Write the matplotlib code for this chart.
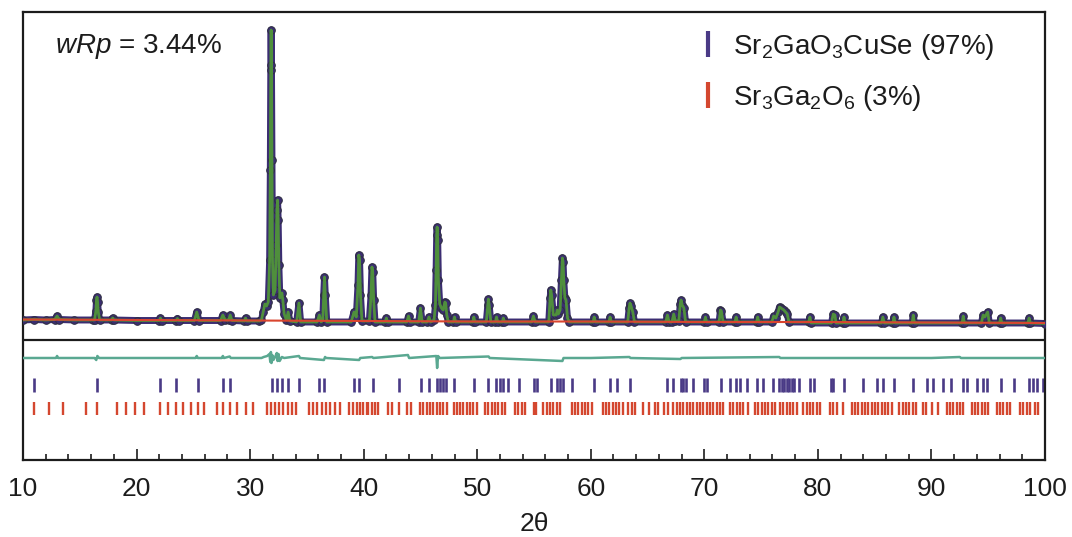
import matplotlib
matplotlib.use("Agg")
import matplotlib.pyplot as plt
from matplotlib.lines import Line2D
from matplotlib.ticker import MultipleLocator

plt.rcParams['font.family'] = ['Liberation Sans', 'DejaVu Sans']
plt.rcParams['mathtext.fontset'] = 'custom'
plt.rcParams['mathtext.rm'] = 'Liberation Sans'
plt.rcParams['mathtext.it'] = 'Liberation Sans:italic'

# ---------------- data ----------------
obs_tth = [10.0, 11.0, 12.0, 12.8, 13.0, 13.2, 14.5, 16.2,
           16.3, 16.42, 16.47, 16.52, 16.57, 16.63, 16.75,
           17.8, 17.9, 18.0, 20.0, 22.0, 22.1, 22.2, 23.5, 23.6, 23.7, 25.1, 25.3, 25.5,
           27.4, 27.6, 27.8, 28.1, 28.25, 28.4, 29.5, 29.6, 29.7, 30.8,
           31.0, 31.15, 31.3, 31.45, 31.6, 31.72, 31.78, 31.82, 31.85, 31.88, 31.92, 31.97,
           32.05, 32.2, 32.3, 32.36, 32.42, 32.47, 32.53, 32.62, 32.72, 32.8, 32.88, 33.0,
           33.2, 33.35, 33.5, 34.1, 34.3, 34.45, 35.9, 36.1, 36.25, 36.4, 36.48, 36.55, 36.62, 36.75,
           38.9, 39.15, 39.35, 39.5, 39.57, 39.64, 39.72, 39.85,
           40.5, 40.65, 40.73, 40.8, 40.88, 41.0, 41.9, 42.0, 42.1, 43.8, 43.95, 44.1,
           44.85, 45.0, 45.15, 45.6, 45.75, 45.9,
           46.2, 46.32, 46.38, 46.43, 46.47, 46.52, 46.58, 46.7, 46.85, 47.0, 47.15, 47.22, 47.32, 47.45,
           47.9, 48.0, 48.1, 49.6, 49.7, 49.8,
           50.8, 50.93, 50.98, 51.05, 51.2, 51.6, 51.7, 51.8, 52.2, 52.3, 52.4, 54.8, 54.95, 55.1,
           56.3, 56.42, 56.48, 56.55, 56.7, 56.95, 57.05, 57.15, 57.3, 57.42, 57.5, 57.56, 57.62,
           57.72, 57.82, 57.95, 58.1,
           60.2, 60.3, 60.4, 61.6, 61.7, 61.8, 63.25, 63.38, 63.45, 63.55, 63.7, 63.85,
           66.6, 66.75, 66.9, 67.15, 67.3, 67.45, 67.75, 67.88, 67.95, 68.05, 68.2, 68.35,
           70.0, 70.1, 70.2, 71.3, 71.42, 71.5, 71.65, 72.7, 72.8, 72.9, 74.6, 74.7, 74.8,
           75.95, 76.1, 76.3, 76.5, 76.62, 76.75, 76.88, 77.0, 77.15, 77.3, 77.45,
           79.2, 79.3, 79.4, 81.2, 81.35, 81.5, 81.6, 82.2, 82.3, 82.4,
           85.6, 85.72, 85.85, 86.6, 86.7, 86.8, 88.3, 88.4, 88.5, 92.7, 92.8, 92.9,
           94.4, 94.55, 94.7, 94.95, 95.1, 96.0, 96.1, 96.2, 98.5, 98.6, 98.7, 100.0]
obs_int = [0, 0.5, 0, 0.5, 4, 0.5, 0, 0,
           0, 9, 20, 23, 18, 8, 0,
           0, 2, 0, -0.5, -0.5, 2, -0.5, -0.5, 1.5, -0.5, -0.5, 8, -0.5,
           -0.5, 5, 0, 0, 5, -0.5, -1, 2, -1, -1,
           0, 8, 16, 14, 18, 60, 150, 250, 290, 255, 160, 60,
           25, 30, 75, 110, 120, 100, 55, 22, 25, 27, 20, 6,
           0, 8, -1, -2, 17, -2, -2, 5, -2, 0, 25, 43, 25, -2,
           -2, 8, 3, 35, 65, 60, 25, -1,
           -1, 25, 53, 48, 20, -2, -2, 2, -2, -2, 4, -2,
           -2, 12, -2, -2, 3, -2,
           0, 15, 50, 85, 93, 80, 40, 16, 12, 10, 18, 17, 5, -2,
           -2, 3, -2, -2, 3, -2,
           -2, 15, 21, 15, -2, -2, 3, -2, -2, 2, -2, -2, 4, -2,
           -2, 22, 30, 25, 5, 5, 10, 6, 10, 40, 62, 58, 40,
           22, 20, 2, -2,
           -2, 3, -2, -2, 3, -2, -2, 12, 17, 14, 8, -2,
           -2, 5, -2, -2, 6, -1, -1, 16, 20, 15, 12, -2,
           -2, 3, -2, -2, 10, 9, -2, -2, 3, -2, -2, 3, -2,
           -2, 4, 2, 8, 13, 12, 11, 10, 8, 6, -2,
           -2, 3, -3, -3, 6, 5, -3, -3, 3, -3,
           -3, 3, -3, -3, 3, -3, -3, 5, -3, -3, 4, -3,
           -3, 5, 3, 8, -3, -3, 2, -3, -3, 2, -3, -3.5]

bg_tth = [10, 20, 30, 40, 50, 60, 70, 80, 90, 100]
bg_int = [0.5, 0, -0.5, -1, -1.5, -1.5, -2, -2, -2.5, -3]

diff_tth = [10, 12.9, 13.0, 13.1, 16.3, 16.45, 16.55, 16.7, 22, 25.2, 25.3, 25.4, 27.5, 27.6, 27.7,
            28.2, 28.3, 31.0, 31.2, 31.5, 31.7, 31.78, 31.83, 31.88, 31.95, 32.05, 32.2, 32.35,
            32.42, 32.5, 32.6, 32.8, 33.0, 34.3, 34.4, 36.5, 36.6, 36.7, 39.6, 39.7, 40.75, 40.85,
            43.9, 44.0, 46.4, 46.47, 46.55, 46.7, 51.0, 51.1, 57.5, 57.6, 60.0, 63.4, 63.5,
            67.9, 68.0, 76.6, 76.7, 90.0, 92.5, 92.6, 100]
diff_val = [0, 0, 2, 0, 0, -2, 2, 0, 0, 0, 2, 0, 0, 2, 0,
            1.5, 0, 0, 1, 2, 4, -4, 6, -5, 3, -2, 1, 5,
            -3, 4, -3, 1, 0, 2, 0, -2, 1, 0, -2, 0, 1, 0,
            3, 0, 2, -10, 2, 0, 1.5, 0, -3, 0, 0, 1, 0,
            -1, 0, 1, 0, 0, 1, 0, 0]

phase1_ticks = [10.97, 16.54, 22.06, 23.47, 25.38, 27.64, 28.23, 31.95, 32.39, 32.83, 33.36,
                34.33, 36.09, 36.53, 39.17, 39.61, 40.79, 43.14, 45.02, 45.75, 46.48, 46.72,
                46.96, 47.25, 47.95, 49.71, 50.97, 51.65, 52.00, 52.30, 52.71, 53.70, 55.00,
                55.29, 56.47, 57.05, 57.29, 57.58, 58.37, 60.28, 61.69, 62.33, 63.45, 66.74,
                67.26, 67.92, 68.15, 68.38, 68.97, 69.97, 70.26, 71.44, 72.26, 72.79, 73.14,
                73.73, 74.66, 75.14, 76.07, 76.60, 76.81, 77.01, 77.25, 77.48, 77.69, 77.89,
                78.33, 79.31, 79.66, 81.13, 81.35, 82.30, 83.94, 85.18, 85.70, 86.70, 88.40,
                89.58, 90.16, 91.04, 91.69, 92.80, 93.10, 94.03, 94.56, 94.91, 96.09, 97.27,
                98.61, 98.96, 99.32, 99.79]

phase2_ticks = [10.97, 12.32, 13.49, 15.55, 16.55, 18.25, 19.07, 19.86, 20.65, 22.06, 22.80,
                23.47, 24.12, 24.76, 25.38, 25.97, 27.11, 27.64, 28.23, 28.81, 29.64, 30.28,
                31.46, 31.81, 32.19, 32.57, 32.92, 33.31, 33.66, 34.01, 35.21, 35.57, 35.92,
                36.30, 36.68, 37.03, 37.47, 37.91, 38.73, 39.09, 39.38, 39.67, 39.97, 40.26,
                40.41, 40.71, 41.00, 41.29, 42.17, 42.47, 43.14, 43.85, 44.14, 44.96, 45.26,
                45.55, 45.84, 46.14, 46.49, 46.72, 47.02, 47.31, 47.96, 48.25, 48.49, 48.78,
                49.07, 49.37, 49.66, 49.95, 50.69, 50.98, 51.27, 51.57, 51.86, 52.15, 52.45,
                53.33, 53.62, 53.92, 54.21, 55.00, 55.18, 55.82, 56.12, 56.41, 56.70, 57.00,
                57.29, 58.32, 58.61, 58.91, 59.20, 59.49, 59.79, 60.08, 61.05, 61.34, 61.64,
                61.93, 62.22, 62.52, 62.81, 63.31, 63.60, 63.89, 64.63, 65.16, 65.66, 65.95,
                66.45, 66.83, 67.27, 67.56, 67.86, 68.15, 68.44, 68.74, 69.03, 69.32, 69.62,
                69.91, 70.21, 70.50, 70.79, 71.09, 71.38, 71.67, 72.26, 72.56, 72.85, 73.14,
                73.44, 73.88, 74.46, 74.76, 75.05, 75.34, 75.64, 75.93, 76.22, 76.66, 76.96,
                77.25, 77.54, 77.84, 78.13, 78.72, 79.01, 79.31, 79.60, 79.89, 80.19, 81.07,
                81.36, 81.65, 82.24, 82.97, 83.27, 83.56, 83.86, 84.15, 84.44, 84.74, 85.03,
                85.32, 85.62, 85.91, 86.20, 86.50, 87.17, 87.47, 87.76, 88.05, 88.35, 88.64,
                89.23, 89.52, 90.02, 90.61, 91.34, 91.63, 91.93, 92.22, 92.51, 92.81, 93.54,
                93.83, 94.13, 94.42, 94.72, 95.01, 95.74, 96.04, 96.33, 96.62, 96.92, 97.80,
                98.09, 98.38, 98.68, 99.12, 99.41]

x_ticks = [10, 20, 30, 40, 50, 60, 70, 80, 90, 100]
phase_labels = ['Sr$_2$GaO$_3$CuSe (97%)', 'Sr$_3$Ga$_2$O$_6$ (3%)']
wrp_text = '$\\it{wRp}$ = 3.44%'

# ---------------- style ----------------
c_obs = '#3b2d72'
c_obs_edge = '#2e2e40'
c_calc = '#4f8f3c'
c_bg = '#d9452f'
c_diff = '#5aa891'
c_p1 = '#4a3a86'
c_p2 = '#d4472f'
c_ax = '#1c1c1c'

diff_offset = -38
p1_row = (-72, -58)
p2_row = (-95, -82)

fig = plt.figure(figsize=(10.72, 5.37), dpi=100)
ax = fig.add_axes([23 / 1072, 77 / 537, 1022 / 1072, 448 / 537])
ax.set_xlim(10, 100)
ax.set_ylim(-140, 308)

ax.plot(obs_tth, obs_int, color=c_obs, lw=5.0, solid_joinstyle='round', zorder=2)
ax.plot(obs_tth, obs_int, ls='none', marker='o', ms=5.5, mfc=c_obs, mec=c_obs_edge,
        mew=0.7, zorder=3)
ax.plot(obs_tth, obs_int, color=c_calc, lw=2.0, zorder=4)
ax.plot(bg_tth, bg_int, color=c_bg, lw=1.5, zorder=5)

ax.plot(diff_tth, [v + diff_offset for v in diff_val], color=c_diff, lw=1.8, zorder=3)
ax.vlines(phase1_ticks, p1_row[0], p1_row[1], color=c_p1, lw=1.9)
ax.vlines(phase2_ticks, p2_row[0], p2_row[1], color=c_p2, lw=1.7)
ax.axhline(-20, color=c_ax, lw=1.6, zorder=6)

for s in ax.spines.values():
    s.set_linewidth(1.6)
    s.set_color(c_ax)

ax.set_xticks(x_ticks)
ax.xaxis.set_minor_locator(MultipleLocator(2))
ax.tick_params(axis='x', which='major', direction='in', length=8, width=1.2,
               labelsize=19, pad=12, colors=c_ax)
ax.tick_params(axis='x', which='minor', direction='in', length=4, width=1.2, colors=c_ax)
ax.set_yticks([])
ax.set_xlabel('2θ', fontsize=19, labelpad=8, color=c_ax)

ax.text(0.031, 0.922, wrp_text, transform=ax.transAxes, fontsize=20, va='center',
        ha='left', color=c_ax)

handles = [Line2D([], [], ls='none', marker='|', ms=19, mew=3, color=c_p1),
           Line2D([], [], ls='none', marker='|', ms=19, mew=3, color=c_p2)]
leg = ax.legend(handles, phase_labels, loc='upper left', bbox_to_anchor=(0.662, 0.955),
                frameon=False, fontsize=20, handlelength=0.6, handletextpad=0.6,
                labelspacing=0.75, borderpad=0, borderaxespad=0)
for t in leg.get_texts():
    t.set_color(c_ax)

fig.savefig('out.png', dpi=100)
